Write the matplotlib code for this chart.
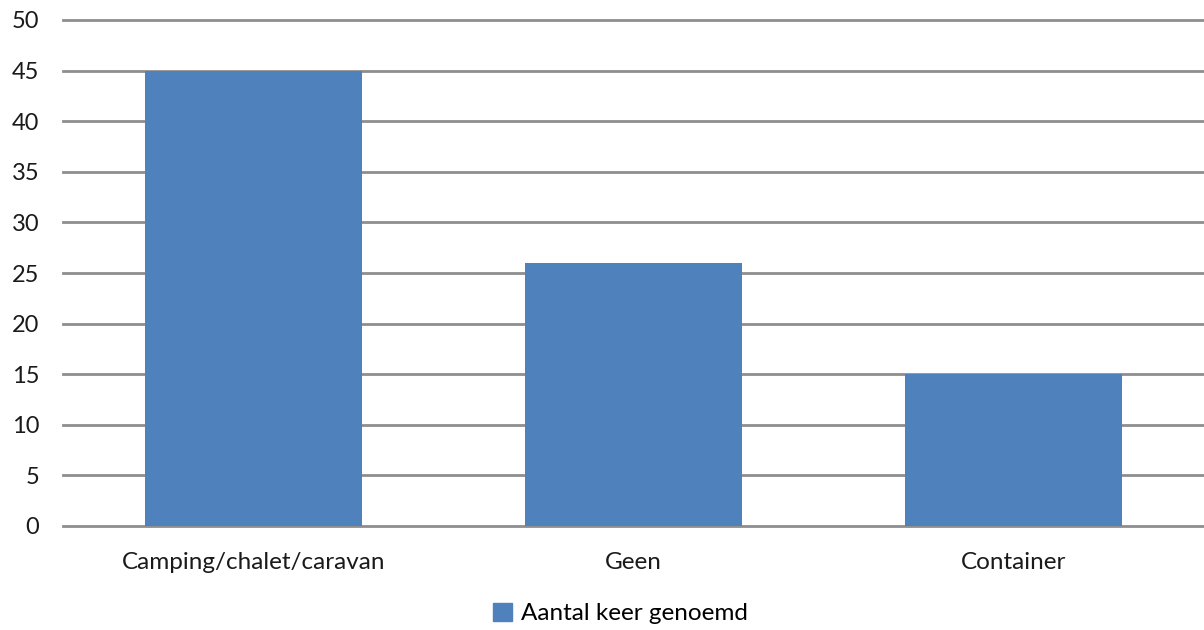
import matplotlib.pyplot as plt
from matplotlib.patches import Patch

categories = ["Camping/chalet/caravan", "Geen", "Container"]
values = [45, 26, 15]
series_name = "Aantal keer genoemd"
yticks = [0, 5, 10, 15, 20, 25, 30, 35, 40, 45, 50]

bar_color = "#4F81BD"
grid_color = "#8E8E8E"

plt.rcParams['font.family'] = ['Lato', 'DejaVu Sans']

fig = plt.figure(figsize=(12.04, 6.3), dpi=100)
ax = fig.add_axes([63 / 1204, 104 / 630, 1 - 63 / 1204, 506 / 630])

x = range(len(categories))
ax.bar(x, values, width=0.57, color=bar_color, zorder=3)

ax.set_xlim(-0.5, len(categories) - 0.5)
ax.set_ylim(0, 50)
ax.set_yticks(yticks)
ax.set_xticks(list(x))
ax.set_xticklabels(categories, fontsize=17.5, color="#1a1a1a")
ax.tick_params(axis='y', length=0, pad=17, labelsize=17, labelcolor="#1a1a1a")
ax.tick_params(axis='x', length=0, pad=19)
ax.yaxis.grid(True, color=grid_color, linewidth=2, zorder=0)
for gl in ax.get_ygridlines():
    gl.set_clip_on(False)
ax.set_axisbelow(True)
for s in ax.spines.values():
    s.set_visible(False)

# legend kept just inside the bottom edge
fig.legend(handles=[Patch(color=bar_color, label=series_name)],
           loc='center', bbox_to_anchor=(0.515, 0.026), frameon=False,
           fontsize=17.5, handlelength=0.8, handleheight=0.8, handletextpad=0.35,
           borderpad=0.1)

fig.savefig("out.png", dpi=100)
